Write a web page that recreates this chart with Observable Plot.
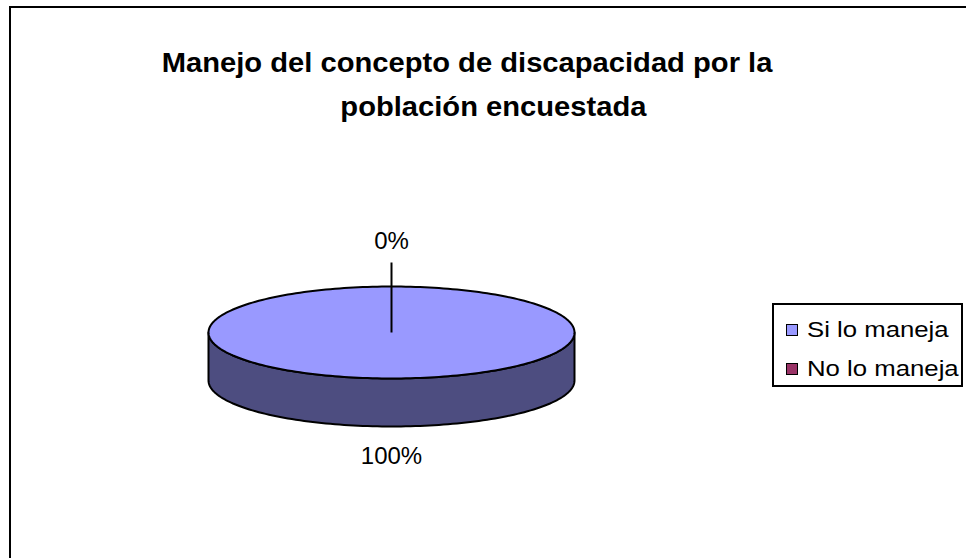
<!DOCTYPE html>
<html>
<head>
<meta charset="utf-8">
<script src="https://cdn.jsdelivr.net/npm/d3@7"></script>
<script src="https://cdn.jsdelivr.net/npm/@observablehq/plot@0.6"></script>
<style>
  html, body { margin: 0; padding: 0; width: 966px; height: 558px; overflow: hidden; background: #fff; }
  body { position: relative; font-family: "Liberation Sans", Arial, sans-serif; }
  #frame { position: absolute; left: 9px; top: 6px; width: 1000px; height: 600px; border: 2px solid #000; box-sizing: border-box; }
  .title { position: absolute; font-weight: bold; font-size: 27.5px; white-space: nowrap; color: #000; transform-origin: center; }
  #legend { position: absolute; left: 772px; top: 303px; width: 191px; height: 84px; border: 2px solid #000; box-sizing: border-box; background: #fff; }
  .item { position: absolute; left: 12px; height: 24px; display: flex; align-items: center; font-size: 22px; white-space: nowrap; }
  .sw { width: 10px; height: 10px; border: 1px solid #000; margin-right: 9px; }
  .lab { display: inline-block; transform: scaleX(1.17); transform-origin: left center; }
  #chart { position: absolute; left: 0; top: 0; }
</style>
</head>
<body>
<div id="frame"></div>
<div id="chart"></div>
<div id="t1" class="title"></div>
<div id="t2" class="title"></div>
<div id="legend"></div>
<script>
// ---- data ----
const titleLines = ["Manejo del concepto de discapacidad por la", "población encuestada"];
const categories = ["Si lo maneja", "No lo maneja"];
const values = [100, 0];
const topColors = ["#9999FF", "#993366"];
const sideColors = ["#4D4D80", "#4D1A33"];

// ---- titles ----
const t1 = document.getElementById("t1");
const t2 = document.getElementById("t2");
t1.textContent = titleLines[0];
t2.textContent = titleLines[1];
function placeTitle(el, cx, top) {
  el.style.top = top + "px";
  const w = el.getBoundingClientRect().width;
  el.style.left = (cx - w / 2) + "px";
  el.style.transform = "scaleX(1.06)";
}
placeTitle(t1, 467, 47);
placeTitle(t2, 493, 91);

// ---- legend ----
const legend = document.getElementById("legend");
categories.forEach((c, i) => {
  const it = document.createElement("div");
  it.className = "item";
  it.style.top = (13 + i * 39) + "px";
  const sw = document.createElement("span");
  sw.className = "sw";
  sw.style.background = topColors[i];
  const lab = document.createElement("span");
  lab.className = "lab";
  lab.textContent = c;
  it.appendChild(sw); it.appendChild(lab);
  legend.appendChild(it);
});

// ---- pie geometry (unit ellipse) ----
const total = d3.sum(values);
let acc = 0;
const slices = values.map((v, i) => {
  const a0 = acc / total * 2 * Math.PI;
  acc += v;
  const a1 = acc / total * 2 * Math.PI;
  return {cat: categories[i], value: v, a0, a1, mid: (a0 + a1) / 2, pct: Math.round(v / total * 100) + "%", i};
});
const cx = 391, cy = 332, rx = 183, ry = 46, depthPx = 48;
const depth = depthPx / ry;
const N = 240;
const px = a => Math.sin(a), py = a => -Math.cos(a);

const topPts = [], sidePts = [];
slices.forEach(s => {
  if (s.value <= 0) return;
  const full = (s.a1 - s.a0) >= 2 * Math.PI - 1e-9;
  const n = Math.max(2, Math.round(N * (s.a1 - s.a0) / (2 * Math.PI)));
  if (!full) topPts.push({x: 0, y: 0, k: s.i});
  for (let j = 0; j <= n; j++) {
    const a = s.a0 + (s.a1 - s.a0) * j / n;
    topPts.push({x: px(a), y: py(a), k: s.i});
  }
  if (!full) topPts.push({x: 0, y: 0, k: s.i});
  const lo = Math.max(s.a0, Math.PI / 2), hi = Math.min(s.a1, 3 * Math.PI / 2);
  if (hi > lo) {
    const m = Math.max(2, Math.round(N * (hi - lo) / (2 * Math.PI)));
    const arc = d3.range(m + 1).map(j => lo + (hi - lo) * j / m);
    arc.forEach(a => sidePts.push({x: px(a), y: py(a), k: s.i}));
    arc.slice().reverse().forEach(a => sidePts.push({x: px(a), y: py(a) + depth, k: s.i}));
    sidePts.push({x: px(lo), y: py(lo), k: s.i});
  }
});

// labels (offsets converted to unit space)
const labels = slices.map(s => {
  const front = Math.cos(s.mid) < 0;
  return {
    x: px(s.mid),
    y: py(s.mid) + (front ? depth + 30 / ry : -45 / ry),
    text: s.pct
  };
});
const leaders = slices.filter(s => s.value === 0).map(s => ({
  x1: 0, y1: py(s.mid) - 24 / ry, x2: 0, y2: 0
}));

const plot = Plot.plot({
  width: 966,
  height: 558,
  margin: 0,
  x: {domain: [-1, 1], range: [cx - rx, cx + rx], axis: null},
  y: {domain: [-1, 1], range: [cy - ry, cy + ry], axis: null},
  style: {fontFamily: "'Liberation Sans', Arial, sans-serif", background: "transparent"},
  marks: [
    Plot.line(sidePts, {x: "x", y: "y", z: "k", fill: d => sideColors[d.k], stroke: "#000", strokeWidth: 2, strokeLinejoin: "round"}),
    Plot.line(topPts, {x: "x", y: "y", z: "k", fill: d => topColors[d.k], stroke: "#000", strokeWidth: 2, strokeLinejoin: "round"}),
    Plot.link(leaders, {x1: "x1", y1: "y1", x2: "x2", y2: "y2", stroke: "#000", strokeWidth: 2}),
    Plot.text(labels, {x: "x", y: "y", text: "text", fontSize: 24, fill: "#000"})
  ]
});
document.getElementById("chart").appendChild(plot);
</script>
</body>
</html>
